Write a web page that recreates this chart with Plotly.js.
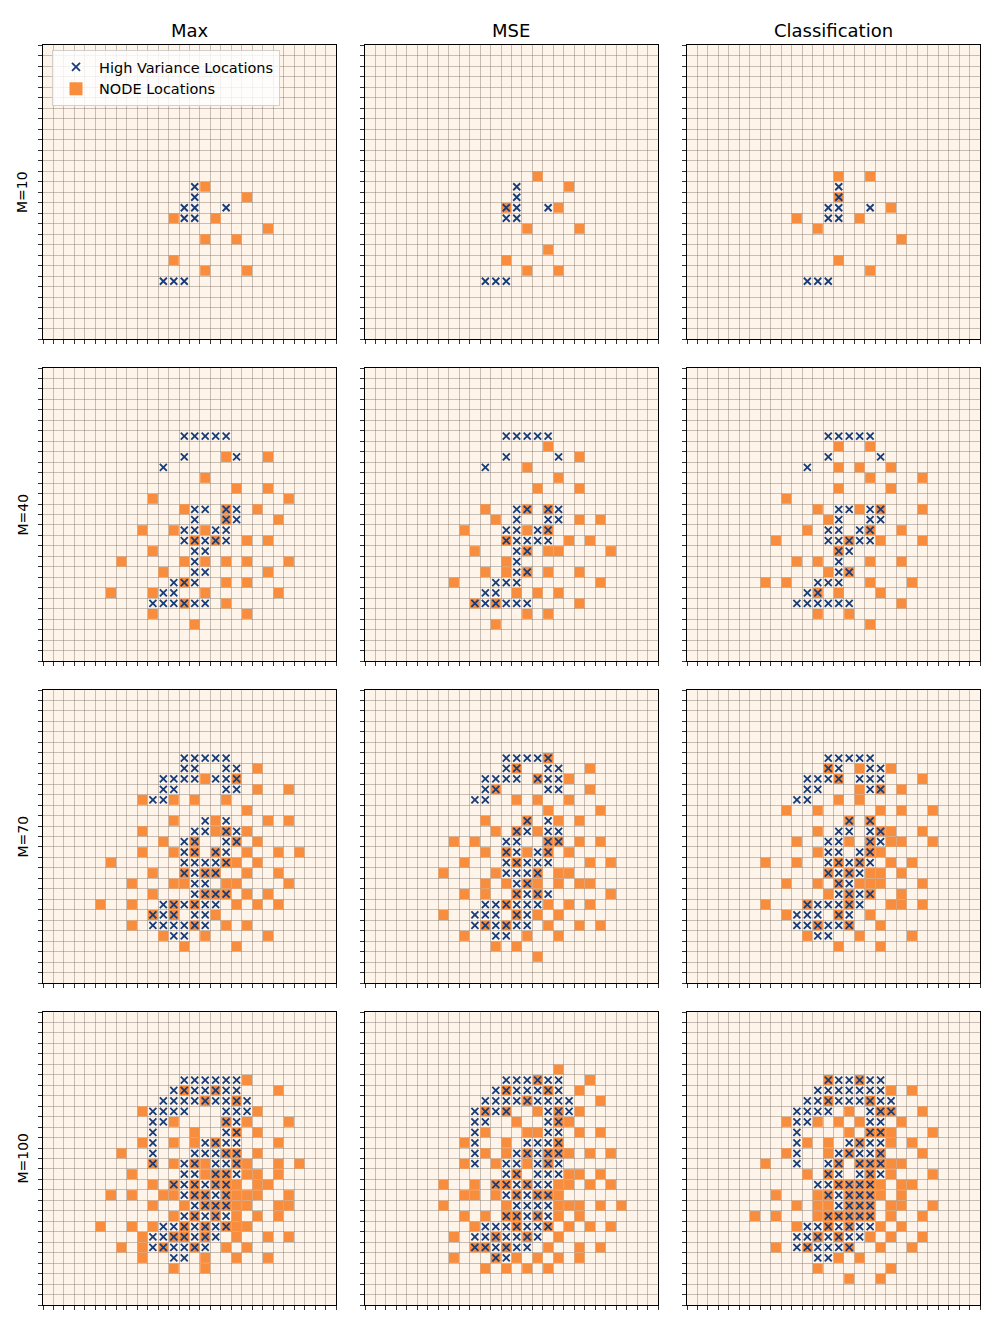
<!DOCTYPE html>
<html>
<head>
<meta charset="utf-8">
<script src="https://cdn.plot.ly/plotly-3.0.1.min.js"></script>
<style>
  html, body { margin: 0; padding: 0; background: #fff; }
  #chart { width: 996px; height: 1329px; }
</style>
</head>
<body>
<div id="chart"></div>
<script>
var methods = ["Max", "MSE", "Classification"];
var budgets = ["M=10", "M=40", "M=70", "M=100"];

// cells on the 28x28 grid, written as {row: [columns]}, row 0 at the top
var highVar10 = {13: [14], 14: [14], 15: [13, 14, 17], 16: [13, 14], 22: [11, 12, 13]};
var highVar40 = {6: [13, 14, 15, 16, 17], 8: [13, 18], 9: [11], 13: [14, 15, 17, 18], 14: [14, 17, 18],
  15: [13, 14, 16, 17], 16: [13, 14, 15, 16, 17], 17: [14, 15], 18: [14], 19: [14, 15],
  20: [12, 13, 14], 21: [11, 12], 22: [10, 11, 12, 13, 14, 15]};
var highVar70 = {6: [13, 14, 15, 16, 17], 7: [13, 14, 17, 18], 8: [11, 12, 13, 14, 16, 17, 18],
  9: [11, 12, 17, 18], 10: [10, 11], 12: [15, 17], 13: [14, 15, 17, 18], 14: [13, 14, 17, 18],
  15: [13, 14, 16, 17], 16: [13, 14, 15, 16, 17], 17: [13, 14, 15, 16], 18: [14, 15],
  19: [14, 15, 16, 17], 20: [11, 12, 13, 14, 15, 16], 21: [10, 11, 12, 14, 15],
  22: [10, 11, 12, 13, 14, 15], 23: [12, 13]};
var highVar100 = {6: [13, 14, 15, 16, 17, 18], 7: [12, 13, 14, 15, 16, 17, 18],
  8: [11, 12, 13, 14, 15, 16, 17, 18, 19], 9: [10, 11, 12, 13, 17, 18, 19], 10: [10, 11, 17, 18],
  11: [10, 17, 18], 12: [10, 15, 16, 17, 18], 13: [10, 14, 15, 16, 17, 18], 14: [10, 13, 14, 16, 17, 18],
  15: [13, 14, 16, 17, 18], 16: [12, 13, 14, 15, 16, 17], 17: [13, 14, 15, 16, 17], 18: [14, 15, 16, 17],
  19: [13, 14, 15, 16, 17], 20: [11, 12, 13, 14, 15, 16, 17], 21: [10, 11, 12, 13, 14, 15, 16],
  22: [10, 11, 12, 13, 14, 15], 23: [12, 13]};

var nodeMax10 = {13: [15], 14: [19], 16: [12, 16], 17: [21], 18: [15, 18], 20: [12], 21: [15, 19]};
var nodeMse10 = {12: [16], 13: [19], 15: [13, 18], 17: [15, 20], 19: [17], 20: [13], 21: [15, 18]};
var nodeCls10 = {12: [14, 17], 14: [14], 15: [19], 16: [10, 16], 17: [12], 18: [20], 20: [14], 21: [17]};

var nodeMax40 = {8: [17, 21], 10: [15], 11: [18, 21], 12: [10, 23], 13: [13, 17, 20], 14: [17, 22],
  15: [9, 12, 15], 16: [14, 16, 19, 21], 17: [10], 18: [7, 13, 15, 17, 19, 23], 19: [11, 21],
  20: [13, 17, 19], 21: [6, 10, 15, 22], 22: [13, 17], 23: [10, 19], 24: [14]};
var nodeMse40 = {7: [17], 8: [20], 9: [15], 10: [18], 11: [16, 20], 13: [11, 15, 17], 14: [12, 20, 22],
  15: [9, 15, 17], 16: [13, 19, 21], 17: [10, 15, 17, 18, 23], 18: [13], 19: [11, 13, 15, 17, 20],
  20: [8, 22], 21: [14, 16, 18], 22: [10, 12, 20], 23: [15, 17], 24: [12]};
var nodeCls40 = {7: [14, 17], 9: [14, 16, 19], 10: [17, 22], 11: [14, 19], 12: [9], 13: [12, 16, 18, 22],
  14: [13], 15: [11, 17, 20], 16: [8, 15, 18, 22], 17: [14], 18: [10, 12, 17, 20], 19: [13, 15],
  20: [7, 9, 17, 21], 21: [12, 14, 18], 22: [20], 23: [12, 15], 24: [17]};

var nodeMax70 = {7: [20], 8: [15, 18], 9: [20, 23], 10: [9, 12, 14, 17], 11: [19], 12: [12, 16, 21, 23],
  13: [9, 16, 17, 19], 14: [11, 14, 18, 20], 15: [9, 12, 14, 16, 19, 22, 24], 16: [6, 17, 18, 20],
  17: [10, 13, 15, 16, 19, 22], 18: [8, 12, 13, 17, 18, 23], 19: [10, 15, 16, 17, 19, 21],
  20: [5, 8, 12, 14, 18, 20, 22], 21: [10, 12, 16], 22: [8, 14, 17, 19], 23: [11, 15, 21], 24: [13, 18]};
var nodeMse70 = {6: [17], 7: [14, 21], 8: [16, 19], 9: [12, 21], 10: [14, 16, 19], 11: [17, 22],
  12: [11, 15, 18, 20], 13: [12, 14, 16], 14: [8, 10, 17, 18, 20, 22], 15: [11, 13, 15, 17, 19],
  16: [9, 14, 21, 23], 17: [7, 12, 16, 18, 19], 18: [11, 13, 15, 16, 18, 20, 21], 19: [9, 11, 14, 16, 23],
  20: [13, 17, 19, 21], 21: [7, 14, 16, 18], 22: [11, 13, 17, 20, 22], 23: [9, 15, 18], 24: [12, 14], 25: [16]};
var nodeCls70 = {7: [13, 16, 19], 8: [14, 22], 9: [16, 18, 20], 10: [14, 16], 11: [9, 12, 18, 20, 23],
  12: [15, 17], 13: [12, 18, 19, 22], 14: [10, 15, 17, 19, 20, 23], 15: [12, 17, 18],
  16: [7, 10, 14, 16, 19, 21], 17: [13, 15, 17, 18, 20], 18: [9, 12, 14, 16, 17, 18, 22],
  19: [13, 15, 17, 20], 20: [7, 11, 15, 19, 20, 22], 21: [9, 14, 17], 22: [12, 15, 18], 23: [11, 16, 21], 24: [14, 18]};

var nodeMax100 = {6: [19], 7: [13, 16, 22], 8: [15, 18], 9: [9, 20], 10: [12, 17, 19, 23], 11: [14, 18, 20],
  12: [9, 12, 14, 16, 22], 13: [7, 17, 18, 20], 14: [10, 12, 14, 15, 18, 19, 22, 24],
  15: [8, 15, 16, 17, 19, 20, 22], 16: [10, 12, 14, 16, 17, 18, 20, 21],
  17: [6, 8, 11, 12, 14, 15, 17, 18, 19, 20, 23], 18: [10, 13, 15, 16, 17, 18, 19, 22, 23],
  19: [12, 14, 16, 18, 20, 22], 20: [5, 8, 10, 13, 15, 17, 18, 19], 21: [9, 12, 13, 15, 18, 21, 23],
  22: [7, 9, 11, 14, 17, 19], 23: [9, 15, 18, 21], 24: [12, 15]};
var nodeMse100 = {5: [18], 6: [16, 21], 7: [13, 17, 20], 8: [15, 22], 9: [11, 13, 16, 18, 20], 10: [14, 18, 19],
  11: [11, 15, 16, 20, 22], 12: [9, 13, 18], 13: [11, 13, 15, 17, 18, 19, 21, 23], 14: [9, 12, 15, 17],
  15: [14, 19, 20, 22], 16: [7, 10, 12, 13, 15, 18, 19, 21, 23], 17: [9, 10, 12, 14, 16, 17, 18],
  18: [7, 13, 18, 19, 20, 22, 24], 19: [9, 11, 13, 14, 16, 18, 20], 20: [10, 14, 17, 19, 21, 23],
  21: [8, 12, 15, 18], 22: [10, 11, 13, 17, 20, 22], 23: [8, 12, 14, 16, 18, 20], 24: [11, 13, 15, 17]};
var nodeCls100 = {6: [13, 16], 7: [19, 21], 8: [13, 17], 9: [15, 18, 19, 22], 10: [9, 12, 14, 16, 20],
  11: [15, 17, 18, 19, 23], 12: [11, 13, 16, 19, 21], 13: [9, 13, 15, 18, 22], 14: [7, 14, 16, 17, 18, 19, 20],
  15: [11, 13, 17, 19, 23], 16: [14, 15, 16, 17, 18, 20, 21], 17: [8, 12, 13, 15, 16, 17, 18, 20],
  18: [10, 12, 13, 15, 16, 17, 19, 20, 23], 19: [6, 8, 12, 13, 14, 15, 16, 17, 19, 22],
  20: [10, 13, 15, 18, 20], 21: [12, 14, 17, 19, 22], 22: [8, 11, 15, 18, 21], 23: [14, 16],
  24: [12, 19], 25: [15, 18]};

var highVar = [highVar10, highVar40, highVar70, highVar100];
var nodes = [
  [nodeMax10, nodeMse10, nodeCls10],
  [nodeMax40, nodeMse40, nodeCls40],
  [nodeMax70, nodeMse70, nodeCls70],
  [nodeMax100, nodeMse100, nodeCls100]
];

function toXY(rowMap) {
  var xs = [], ys = [];
  Object.keys(rowMap).forEach(function (r) {
    rowMap[r].forEach(function (c) { xs.push(c); ys.push(+r); });
  });
  return {x: xs, y: ys};
}

var W = 996, H = 1329;
var colPx = [[43, 336], [365, 658], [687, 980]];
var rowPx = [[45, 339], [368, 661], [690, 983], [1012, 1305]];

var gridVals = [];
for (var g = -0.5; g <= 27.5; g += 1) gridVals.push(g);

var font = "DejaVu Sans, sans-serif";
var orange = "#f98d3e";
var navy = "#173c7a";

var data = [];
var layout = {
  width: W, height: H,
  margin: {l: 0, r: 0, t: 0, b: 0},
  paper_bgcolor: "#ffffff",
  plot_bgcolor: "#fef4e9",
  font: {family: font, color: "#000"},
  showlegend: true,
  legend: {
    x: 52 / W, y: 1 - 50 / H, xanchor: "left", yanchor: "top",
    bgcolor: "rgba(255,255,255,0.8)", bordercolor: "rgba(204,204,204,0.9)", borderwidth: 1,
    font: {family: font, size: 14.5}, tracegroupgap: 0, itemwidth: 36
  },
  annotations: []
};

function axis(range, domain, anchor) {
  return {
    domain: domain, range: range, anchor: anchor,
    tickmode: "array", tickvals: gridVals, showticklabels: false,
    ticks: "outside", ticklen: 4, tickwidth: 0.8, tickcolor: "#000",
    showgrid: true, gridcolor: "rgba(120,108,96,0.4)", gridwidth: 1,
    zeroline: false, showline: true, mirror: true, linecolor: "#000", linewidth: 1,
    fixedrange: true
  };
}

for (var r = 0; r < 4; r++) {
  for (var c = 0; c < 3; c++) {
    var k = r * 3 + c + 1;
    var xa = "x" + (k === 1 ? "" : k), ya = "y" + (k === 1 ? "" : k);
    layout["xaxis" + (k === 1 ? "" : k)] = axis([-0.5, 27.5],
      [colPx[c][0] / W, colPx[c][1] / W], ya);
    layout["yaxis" + (k === 1 ? "" : k)] = axis([27.5, -0.5],
      [1 - rowPx[r][1] / H, 1 - rowPx[r][0] / H], xa);

    var nd = toXY(nodes[r][c]);
    data.push({
      type: "scatter", mode: "markers", x: nd.x, y: nd.y, xaxis: xa, yaxis: ya,
      name: "NODE Locations", showlegend: false, hoverinfo: "skip",
      marker: {symbol: "square", size: 10, color: orange, line: {width: 0}}
    });
    var hv = toXY(highVar[r]);
    data.push({
      type: "scatter", mode: "markers", x: hv.x, y: hv.y, xaxis: xa, yaxis: ya,
      name: "High Variance Locations", showlegend: false, hoverinfo: "skip",
      marker: {symbol: "x-thin", size: 7, color: navy, line: {width: 1.8, color: navy}}
    });
  }
}

// legend entries (legend markers are drawn a little larger, as in the original)
data.push({
  type: "scatter", mode: "markers", x: [null], y: [null], name: "High Variance Locations",
  legendrank: 1, hoverinfo: "skip",
  marker: {symbol: "x-thin", size: 8, color: navy, line: {width: 1.8, color: navy}}
});
data.push({
  type: "scatter", mode: "markers", x: [null], y: [null], name: "NODE Locations",
  legendrank: 2, hoverinfo: "skip",
  marker: {symbol: "square", size: 13, color: orange, line: {width: 0}}
});

methods.forEach(function (m, c) {
  layout.annotations.push({
    xref: "paper", yref: "paper", x: (colPx[c][0] + colPx[c][1]) / 2 / W, y: 1 - 31 / H,
    xanchor: "center", yanchor: "middle", text: m, showarrow: false,
    font: {family: font, size: 18, color: "#000"}
  });
});
budgets.forEach(function (b, r) {
  layout.annotations.push({
    xref: "paper", yref: "paper", x: 22 / W, y: 1 - (rowPx[r][0] + rowPx[r][1]) / 2 / H,
    xanchor: "center", yanchor: "middle", text: b, textangle: -90, showarrow: false,
    font: {family: font, size: 14, color: "#000"}
  });
});

Plotly.newPlot("chart", data, layout, {displayModeBar: false, staticPlot: true});
</script>
</body>
</html>
